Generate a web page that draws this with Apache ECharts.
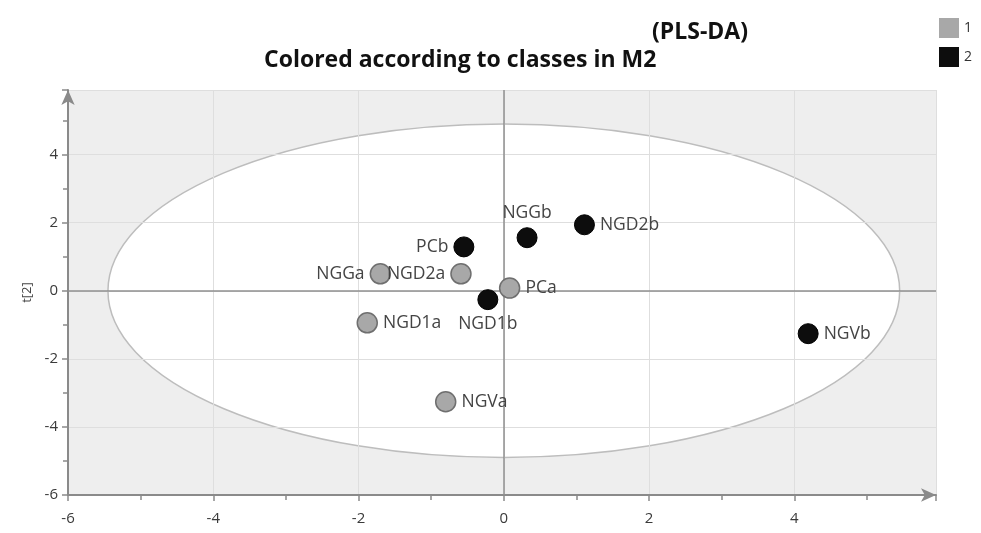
<!DOCTYPE html>
<html>
<head>
<meta charset="utf-8">
<script src="https://cdn.jsdelivr.net/npm/echarts@6/dist/echarts.min.js"></script>
<style>html,body{margin:0;padding:0;background:#fff}#main{width:981px;height:533px}</style>
</head>
<body>
<div id="main"></div>
<script>
// class 1 (grey)
var names1 = ['NGGa', 'NGD2a', 'PCa', 'NGD1a', 'NGVa'];
var t1_1 = [-1.70, -0.59, 0.08, -1.88, -0.80];
var t2_1 = [0.50, 0.50, 0.08, -0.94, -3.26];
// class 2 (black)
var names2 = ['PCb', 'NGGb', 'NGD2b', 'NGD1b', 'NGVb'];
var t1_2 = [-0.55, 0.32, 1.11, -0.22, 4.19];
var t2_2 = [1.29, 1.56, 1.94, -0.26, -1.26];
// Hotelling T2 ellipse half-axes
var ellA = 5.45, ellB = 4.9;

var labelPos = {
    NGGa: 'left', NGD2a: 'left', PCa: 'right', NGD1a: 'right', NGVa: 'right',
    PCb: 'left', NGGb: 'top', NGD2b: 'right', NGD1b: 'bottom', NGVb: 'right'
};

function pts(names, xs, ys){
    return names.map(function(n, i){
        return {name: n, value: [xs[i], ys[i]], label: {position: labelPos[n]}};
    });
}

var chart = echarts.init(document.getElementById('main'));
var axisCommon = {
    z: 3,
    interval: 2,
    axisLine: {show: true, onZero: false, symbol: ['none', 'arrow'], symbolSize: [10, 15],
        lineStyle: {color: '#8a8a8a', width: 2}},
    axisTick: {show: true, length: 6, lineStyle: {color: '#8a8a8a', width: 1.5}},
    minorTick: {show: true, splitNumber: 2, length: 5, lineStyle: {color: '#8a8a8a', width: 1.5}},
    splitLine: {show: true, lineStyle: {color: '#dedede', width: 1}},
    axisLabel: {color: '#3a3a3a', fontSize: 15, fontFamily: 'Open Sans', showMaxLabel: false}
};

var titleFont = {fontSize: 23, fontWeight: 'bold', color: '#111', fontFamily: 'Open Sans'};
var labelFont = {show: true, formatter: '{b}', color: '#444', fontSize: 17.5, distance: 5,
    fontFamily: 'Open Sans'};

var option = {
    animation: false,
    title: [
        {text: '(PLS-DA)', left: 647, top: 16, textStyle: titleFont},
        {text: 'Colored according to classes in M2', left: 259, top: 44, textStyle: titleFont}
    ],
    legend: {
        orient: 'vertical', right: 4, top: 13, itemWidth: 20, itemHeight: 20, itemGap: 9,
        icon: 'rect', data: ['1', '2'], itemStyle: {borderWidth: 0},
        textStyle: {color: '#333', fontSize: 14, fontFamily: 'Open Sans'}
    },
    grid: {left: 68, right: 45, top: 90, bottom: 38, show: true,
        backgroundColor: '#eeeeee', borderWidth: 0},
    xAxis: Object.assign({}, axisCommon, {type: 'value', min: -6, max: 5.95,
        axisLabel: Object.assign({}, axisCommon.axisLabel, {margin: 16})}),
    yAxis: Object.assign({}, axisCommon, {type: 'value', min: -6, max: 5.9,
        name: 't[2]', nameLocation: 'middle', nameGap: 24, nameRotate: 90,
        nameTextStyle: {color: '#444', fontSize: 13, fontFamily: 'Open Sans'},
        axisLabel: Object.assign({}, axisCommon.axisLabel, {margin: 10})}),
    series: [
        {
            type: 'custom', z: 1, silent: true,
            data: [[0, 0]],
            renderItem: function(params, api){
                var c = api.coord([api.value(0), api.value(1)]);
                var rx = api.size([ellA, 0])[0];
                var ry = api.size([0, ellB])[1];
                return {
                    type: 'path',
                    shape: {
                        pathData: 'M0,50 A50,50 0 1,0 100,50 A50,50 0 1,0 0,50 Z',
                        x: c[0] - rx, y: c[1] - ry, width: 2 * rx, height: 2 * ry, layout: 'cover'
                    },
                    style: {fill: '#ffffff', stroke: '#bdbdbd', lineWidth: 1.5}
                };
            }
        },
        {
            type: 'scatter', z: 4, data: [], silent: true,
            markLine: {
                silent: true, symbol: 'none', label: {show: false},
                lineStyle: {color: '#8f8f8f', width: 1.5, type: 'solid'},
                data: [{xAxis: 0}, {yAxis: 0}]
            }
        },
        {
            name: '1', type: 'scatter', z: 5, symbolSize: 20,
            itemStyle: {color: '#a8a8a8', borderColor: '#6f6f6f', borderWidth: 1.5, opacity: 1},
            label: labelFont,
            data: pts(names1, t1_1, t2_1)
        },
        {
            name: '2', type: 'scatter', z: 5, symbolSize: 20,
            itemStyle: {color: '#0d0d0d', borderColor: '#000', borderWidth: 1, opacity: 1},
            label: labelFont,
            data: pts(names2, t1_2, t2_2)
        }
    ]
};
chart.setOption(option);
</script>
</body>
</html>
